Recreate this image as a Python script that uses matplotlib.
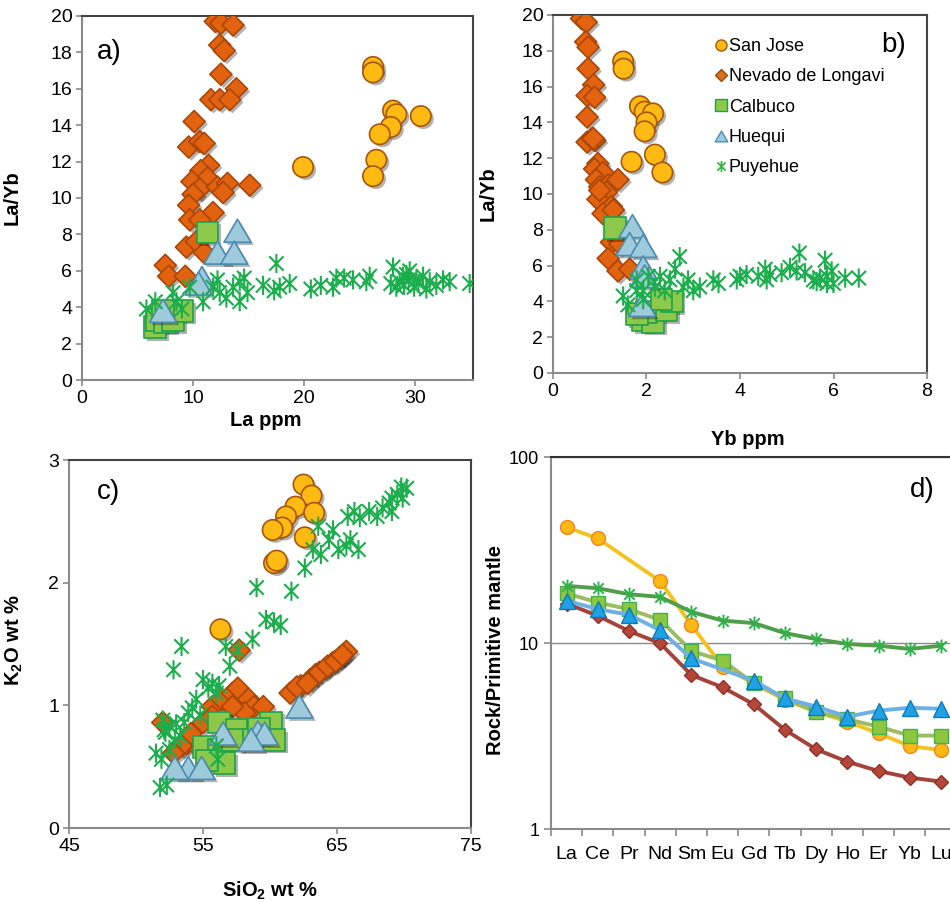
import numpy as np
import matplotlib.pyplot as plt
import matplotlib.patheffects as pe
from matplotlib.path import Path
from matplotlib.lines import Line2D

plt.rcParams['font.family'] = ['Liberation Sans', 'DejaVu Sans']
plt.rcParams['mathtext.fontset'] = 'custom'
plt.rcParams['mathtext.rm'] = 'Liberation Sans'
plt.rcParams['mathtext.bf'] = 'Liberation Sans:bold'

names = ['San Jose', 'Nevado de Longavi', 'Calbuco', 'Huequi', 'Puyehue']

# ---- panel a: La ppm vs La/Yb
sj_la = [26.2, 26.2, 28.0, 28.3, 30.5, 27.8, 26.8, 26.5, 26.2, 19.9]
sj_layb_a = [17.2, 16.9, 14.8, 14.6, 14.5, 13.9, 13.5, 12.1, 11.2, 11.7]
nl_la = [12.0, 12.5, 13.6, 12.4, 12.8, 12.5, 13.9, 11.6, 12.4, 13.3, 10.1, 9.6,
         10.6, 11.0, 11.4, 10.7, 11.3, 9.9, 10.6, 10.0, 12.2, 13.1, 12.7, 15.1,
         9.6, 11.8, 9.7, 10.6, 9.4, 10.3, 11.0, 7.5, 7.8, 9.3]
nl_layb_a = [19.7, 19.6, 19.5, 18.4, 18.1, 16.8, 16.0, 15.4, 15.4, 15.4, 14.2, 12.8,
             13.1, 13.0, 11.8, 11.5, 11.1, 10.9, 10.5, 10.2, 10.6, 10.8, 10.3, 10.7,
             9.6, 9.2, 8.8, 8.8, 7.3, 7.6, 7.0, 6.3, 5.7, 5.7]
ca_la = [11.3, 6.6, 6.7, 7.5, 8.2, 9.0, 7.3]
ca_layb_a = [8.1, 2.9, 3.3, 3.2, 3.3, 3.8, 3.8]
hu_la = [14.0, 12.2, 13.7, 10.8, 10.5, 7.3]
hu_layb_a = [8.2, 7.0, 7.0, 5.6, 5.3, 3.8]
pu_la = [5.8, 6.6, 8.2, 8.5, 9.0, 9.7, 10.9, 11.8, 12.2, 12.4, 13.0, 13.6, 14.2,
         14.6, 14.2, 14.9, 16.3, 17.5, 17.3, 17.8, 18.7, 20.6, 21.5, 22.6, 22.9,
         23.6, 24.4, 25.6, 25.9, 28.0, 27.8, 28.3, 28.9, 29.5, 30.1, 29.9, 30.7,
         31.3, 31.9, 32.5, 33.1, 34.9, 29.0, 29.4, 30.3, 28.6, 31.0, 29.2]
pu_layb_a = [3.9, 4.3, 4.8, 4.3, 3.9, 5.1, 4.3, 5.1, 5.5, 4.8, 4.5, 5.1, 5.4,
             5.6, 4.3, 4.8, 5.2, 6.4, 4.9, 5.1, 5.3, 5.0, 5.2, 5.1, 5.6,
             5.6, 5.5, 5.4, 5.7, 6.2, 5.3, 5.1, 5.7, 6.0, 5.5, 5.1, 5.7,
             5.4, 5.2, 5.5, 5.4, 5.3, 5.2, 5.5, 5.3, 5.4, 5.0, 5.8]

# ---- panel b: Yb ppm vs La/Yb
sj_yb = [1.50, 1.51, 1.86, 1.96, 2.14, 2.00, 1.96, 1.68, 2.18, 2.34]
sj_layb_b = [17.4, 17.0, 14.9, 14.6, 14.5, 14.0, 13.5, 11.8, 12.2, 11.2]
nl_yb = [0.61, 0.71, 0.70, 0.75, 0.75, 0.87, 0.73, 0.89, 0.73, 0.73, 0.84, 0.89,
         0.96, 0.89, 1.07, 0.93, 1.00, 1.18, 1.14, 1.39, 0.96, 1.25, 1.07, 1.29,
         1.25, 1.36, 1.43, 1.18, 1.39, 1.64, 0.86, 1.00]
nl_layb_b = [19.8, 19.6, 18.5, 18.2, 17.0, 16.1, 15.5, 15.4, 14.3, 12.9, 13.1, 13.0,
             11.7, 11.4, 11.2, 10.8, 10.4, 10.5, 10.1, 10.8, 9.7, 9.3, 8.9, 9.1,
             7.3, 7.7, 7.2, 6.4, 5.7, 5.8, 13.1, 10.2]
ca_yb = [1.32, 1.93, 2.14, 2.00, 2.43, 2.54, 2.32, 1.79]
ca_layb_b = [8.1, 2.95, 2.86, 3.4, 3.5, 4.0, 4.1, 3.3]
hu_yb = [1.70, 1.64, 1.93, 1.93, 1.96, 1.91]
hu_layb_b = [8.2, 7.2, 7.1, 5.9, 5.4, 3.8]
pu_yb = [1.50, 1.60, 1.79, 1.93, 2.04, 2.18, 2.29, 2.39, 2.50, 2.61, 2.71, 2.79,
         2.89, 3.00, 3.14, 3.43, 3.54, 4.00, 4.14, 4.39, 4.54, 4.64, 4.89, 5.07,
         5.27, 5.39, 5.57, 5.71, 5.82, 5.86, 5.96, 6.00, 6.25, 6.54, 5.64, 5.86,
         5.21, 4.57, 3.93, 1.93, 1.79]
pu_layb_b = [4.3, 3.8, 5.2, 4.6, 5.4, 4.8, 5.4, 4.6, 5.2, 5.8, 6.5, 4.8,
             5.2, 4.6, 4.8, 5.2, 5.0, 5.4, 5.5, 5.4, 5.8, 5.5, 5.6, 5.9,
             6.7, 5.6, 5.2, 5.3, 6.3, 5.4, 5.7, 5.0, 5.3, 5.3, 5.1, 5.0,
             5.7, 5.2, 5.2, 4.1, 4.6]

# ---- panel c: SiO2 vs K2O
sj_si = [62.5, 63.1, 61.9, 61.2, 60.9, 60.2, 63.3, 62.6, 60.3, 60.5, 56.3]
sj_k = [2.80, 2.71, 2.62, 2.54, 2.45, 2.43, 2.57, 2.37, 2.16, 2.18, 1.62]
nl_si = [52.0, 53.8, 54.1, 55.0, 55.7, 56.4, 57.2, 57.6, 58.4, 58.8, 59.5, 58.1,
         55.7, 57.2, 57.7, 54.8, 53.4, 52.8, 61.5, 62.3, 63.0, 63.4, 64.1, 64.7,
         65.2, 65.7, 63.7, 64.3, 64.9, 65.4, 62.0, 62.8]
nl_k = [0.86, 0.69, 0.77, 0.86, 0.99, 1.05, 1.10, 1.14, 1.05, 0.99, 0.99, 0.94,
        0.91, 0.99, 1.45, 0.64, 0.67, 0.61, 1.10, 1.16, 1.21, 1.25, 1.30, 1.35,
        1.39, 1.44, 1.27, 1.32, 1.36, 1.41, 1.15, 1.18]
ca_si = [56.2, 57.5, 55.1, 56.2, 56.6, 55.3, 60.1, 60.3, 58.7, 59.2, 57.2]
ca_k = [0.86, 0.80, 0.66, 0.64, 0.53, 0.55, 0.86, 0.72, 0.72, 0.81, 0.72]
hu_si = [62.2, 59.1, 59.6, 58.6, 56.5, 53.9, 54.9, 52.9]
hu_k = [0.99, 0.78, 0.77, 0.72, 0.77, 0.49, 0.49, 0.49]
pu_si = [52.0, 51.9, 51.8, 52.3, 52.1, 52.5, 52.9, 52.5, 53.3, 52.8, 53.4, 53.6,
         53.9, 54.5, 54.8, 55.0, 55.4, 55.7, 56.0, 56.2, 56.7, 57.0, 57.6, 58.7,
         59.0, 59.7, 60.3, 60.8, 61.6, 62.6, 63.2, 63.6, 63.8, 64.4, 64.7, 65.1,
         65.7, 66.0, 66.6, 65.8, 66.3, 66.7, 67.4, 68.0, 68.4, 68.9, 69.1, 69.5,
         69.8, 69.9, 70.2, 69.1, 56.1, 56.0, 51.5, 52.2, 53.0, 54.2]
pu_k = [0.88, 0.56, 0.33, 0.35, 0.80, 0.83, 0.72, 0.64, 0.75, 1.29, 1.48, 0.86,
        0.94, 1.05, 0.92, 1.21, 1.14, 1.18, 1.10, 1.16, 1.48, 1.32, 1.45, 1.54,
        1.96, 1.70, 1.68, 1.65, 1.93, 2.12, 2.27, 2.46, 2.23, 2.35, 2.43, 2.27,
        2.30, 2.35, 2.27, 2.54, 2.58, 2.53, 2.58, 2.54, 2.61, 2.65, 2.58, 2.72,
        2.78, 2.69, 2.77, 2.69, 0.56, 0.67, 0.61, 0.78, 0.85, 0.98]

# ---- panel d: REE patterns normalised to primitive mantle
ree = ['La', 'Ce', 'Pr', 'Nd', 'Sm', 'Eu', 'Gd', 'Tb', 'Dy', 'Ho', 'Er', 'Yb', 'Lu']
ree_sj = [41.9, 36.5, np.nan, 21.5, 12.5, 7.46, 6.07, 4.94, 4.27, 3.78, 3.27, 2.79, 2.66]
ree_nl = [16.3, 14.0, 11.6, 9.96, 6.73, 5.78, 4.68, 3.41, 2.68, 2.30, 2.05, 1.89, 1.80]
ree_ca = [18.5, 16.5, 15.2, 13.3, 9.06, 8.04, 6.07, 5.04, 4.27, 3.89, 3.55, 3.18, 3.18]
ree_hu = [16.9, 15.2, 14.2, 11.7, 8.27, np.nan, 6.27, 5.04, 4.55, 4.02, 4.33, 4.49, 4.43]
ree_pu = [20.3, 19.7, 18.3, 17.7, 14.7, 13.2, 12.8, 11.3, 10.5, 9.88, 9.68, 9.29, 9.68]

# asterisk marker (vertical bar + X)
ASTER = Path([(0, -1), (0, 1), (-0.75, -0.75), (0.75, 0.75), (-0.75, 0.75), (0.75, -0.75)],
             [Path.MOVETO, Path.LINETO, Path.MOVETO, Path.LINETO, Path.MOVETO, Path.LINETO])
TRI = Path([(0, 0.85), (-1, -0.85), (1, -0.85), (0, 0.85)],
           [Path.MOVETO, Path.LINETO, Path.LINETO, Path.CLOSEPOLY])

sty = {
    'San Jose': dict(marker='o', fc='#FDBA12', ec='#A8560B', s=215),
    'Nevado de Longavi': dict(marker='D', fc='#E2620F', ec='#A8470A', s=125),
    'Calbuco': dict(marker='s', fc='#8DC84A', ec='#1BA34A', s=245),
    'Huequi': dict(marker=TRI, fc='#9DCBDC', ec='#4C8CB0', s=380),
    'Puyehue': dict(marker=ASTER, fc='none', ec='#1AAE4C', s=190),
}
shadow = [pe.SimplePatchShadow(offset=(2, -2), shadow_rgbFace='k', alpha=0.3), pe.Normal()]


def dots(ax, x, y, name):
    st = sty[name]
    if name == 'Puyehue':
        ax.scatter(x, y, marker=st['marker'], s=st['s'], facecolors='none',
                   edgecolors=st['ec'], linewidths=1.5, zorder=5)
    else:
        sc = ax.scatter(x, y, marker=st['marker'], s=st['s'], facecolors=st['fc'],
                        edgecolors=st['ec'], linewidths=1.2, zorder=3)
        sc.set_path_effects(shadow)


def frame(ax):
    for side in ['left', 'bottom']:
        ax.spines[side].set_color('#8a8a8a')
        ax.spines[side].set_linewidth(1.5)
    for side in ['top', 'right']:
        ax.spines[side].set_color('#444444')
        ax.spines[side].set_linewidth(1.5)
    ax.tick_params(direction='out', length=4, width=1.2, color='#8a8a8a',
                   labelsize=14, pad=3)


LBL = dict(fontsize=14.5, fontweight='bold')

fig = plt.figure(figsize=(9.5, 9.02), dpi=100)

# a)
ax = fig.add_axes([0.0863, 0.5787, 0.4116, 0.4036])
dots(ax, sj_la, sj_layb_a, 'San Jose')
dots(ax, nl_la, nl_layb_a, 'Nevado de Longavi')
dots(ax, ca_la, ca_layb_a, 'Calbuco')
dots(ax, hu_la, hu_layb_a, 'Huequi')
dots(ax, pu_la, pu_layb_a, 'Puyehue')
ax.set_xlim(0, 35.2)
ax.set_ylim(0, 20)
ax.set_xticks([0, 10, 20, 30])
ax.set_yticks(range(0, 21, 2))
frame(ax)
ax.set_xlabel('La ppm', **LBL)
ax.xaxis.set_label_coords(0.47, -0.085)
ax.set_ylabel('La/Yb', **LBL)
ax.yaxis.set_label_coords(-0.155, 0.5)
ax.text(0.038, 0.9, 'a)', transform=ax.transAxes, fontsize=20, va='center')

# b)
ax = fig.add_axes([0.5821, 0.5865, 0.3937, 0.3969])
dots(ax, sj_yb, sj_layb_b, 'San Jose')
dots(ax, nl_yb, nl_layb_b, 'Nevado de Longavi')
dots(ax, ca_yb, ca_layb_b, 'Calbuco')
dots(ax, hu_yb, hu_layb_b, 'Huequi')
dots(ax, pu_yb, pu_layb_b, 'Puyehue')
ax.set_xlim(0, 8)
ax.set_ylim(0, 20)
ax.set_xticks([0, 2, 4, 6, 8])
ax.set_yticks(range(0, 21, 2))
frame(ax)
ax.set_xlabel('Yb ppm', **LBL)
ax.xaxis.set_label_coords(0.52, -0.16)
ax.set_ylabel('La/Yb', **LBL)
ax.yaxis.set_label_coords(-0.147, 0.5)
ax.text(0.945, 0.916, 'b)', transform=ax.transAxes, fontsize=20, va='center', ha='right')
handles = [
    Line2D([], [], ls='none', marker='o', ms=8, mfc='#FDBA12', mec='#A8560B'),
    Line2D([], [], ls='none', marker='D', ms=6, mfc='#D8701C', mec='#9A4A0A'),
    Line2D([], [], ls='none', marker='s', ms=8, mfc='#8DC84A', mec='#1BA34A'),
    Line2D([], [], ls='none', marker=TRI, ms=9, mfc='#9DCBDC', mec='#4C8CB0'),
    Line2D([], [], ls='none', marker=ASTER, ms=8, mfc='none', mec='#3DB54A', mew=1.3),
]
ax.legend(handles, names, loc='upper left', bbox_to_anchor=(0.415, 0.955), frameon=False,
          fontsize=13, handlelength=0.6, handletextpad=0.15, labelspacing=0.73,
          borderaxespad=0)

# c)
ax = fig.add_axes([0.0726, 0.0820, 0.4232, 0.408])
dots(ax, sj_si, sj_k, 'San Jose')
dots(ax, nl_si, nl_k, 'Nevado de Longavi')
dots(ax, ca_si, ca_k, 'Calbuco')
dots(ax, hu_si, hu_k, 'Huequi')
dots(ax, pu_si, pu_k, 'Puyehue')
ax.set_xlim(45, 75)
ax.set_ylim(0, 3)
ax.set_xticks([45, 55, 65, 75])
ax.set_yticks([0, 1, 2, 3])
frame(ax)
ax.set_xlabel(r'SiO$_\mathbf{2}$ wt %', **LBL)
ax.xaxis.set_label_coords(0.5, -0.14)
ax.set_ylabel(r'K$_\mathbf{2}$O wt %', **LBL)
ax.yaxis.set_label_coords(-0.11, 0.51)
ax.text(0.07, 0.913, 'c)', transform=ax.transAxes, fontsize=20, va='center')

# d)
ax = fig.add_axes([0.58, 0.0809, 0.427, 0.4124])
xs = np.arange(len(ree))
line_sty = [
    ('#F3C322', dict(marker='o', ms=10, mfc='#FDB913', mec='#F0841E'), ree_sj),
    ('#A5423A', dict(marker='D', ms=7, mfc='#B5473A', mec='#8E3026'), ree_nl),
    ('#9DBB61', dict(marker='s', ms=9.5, mfc='#8DC63F', mec='#3DB54A'), ree_ca),
    ('#6DB0E6', dict(marker='^', ms=11, mfc='#1FA2E3', mec='#1378B8'), ree_hu),
    ('#4F9E4A', dict(marker=ASTER, ms=10, mfc='none', mec='#2DB34A', mew=1.4), ree_pu),
]
for col, mk, vals in line_sty:
    v = np.array(vals, dtype=float)
    ok = ~np.isnan(v)
    ax.plot(xs[ok], v[ok], color=col, lw=2.8, zorder=3, **mk)
ax.set_yscale('log')
ax.set_ylim(1, 100)
ax.set_xlim(-0.5, len(ree) - 0.5)
ax.set_yticks([1, 10, 100])
ax.set_yticklabels(['1', '10', '100'])
ax.yaxis.set_minor_locator(plt.NullLocator())
ax.set_xticks(xs)
ax.set_xticklabels(ree)
ax.set_xticks(np.arange(len(ree) + 1) - 0.5, minor=True)
ax.tick_params(axis='x', which='major', length=0, labelsize=14, pad=12)
ax.tick_params(axis='x', which='minor', length=5, width=1.2, color='#8a8a8a', direction='out')
ax.tick_params(axis='y', length=5, width=1.2, color='#8a8a8a', labelsize=13)
ax.yaxis.grid(True, color='#8a8a8a', lw=1)
ax.set_axisbelow(True)
ax.spines['left'].set_color('#8a8a8a')
ax.spines['left'].set_linewidth(1.5)
ax.spines['bottom'].set_color('#8a8a8a')
ax.spines['bottom'].set_linewidth(1.5)
ax.spines['top'].set_color('#333333')
ax.spines['top'].set_linewidth(1.5)
ax.spines['right'].set_visible(False)
ax.set_ylabel('Rock/Primitive mantle', **LBL)
ax.yaxis.set_label_coords(-0.113, 0.48)
ax.text(0.885, 0.911, 'd)', transform=ax.transAxes, fontsize=20, va='center')

fig.savefig('out.png', dpi=100)
